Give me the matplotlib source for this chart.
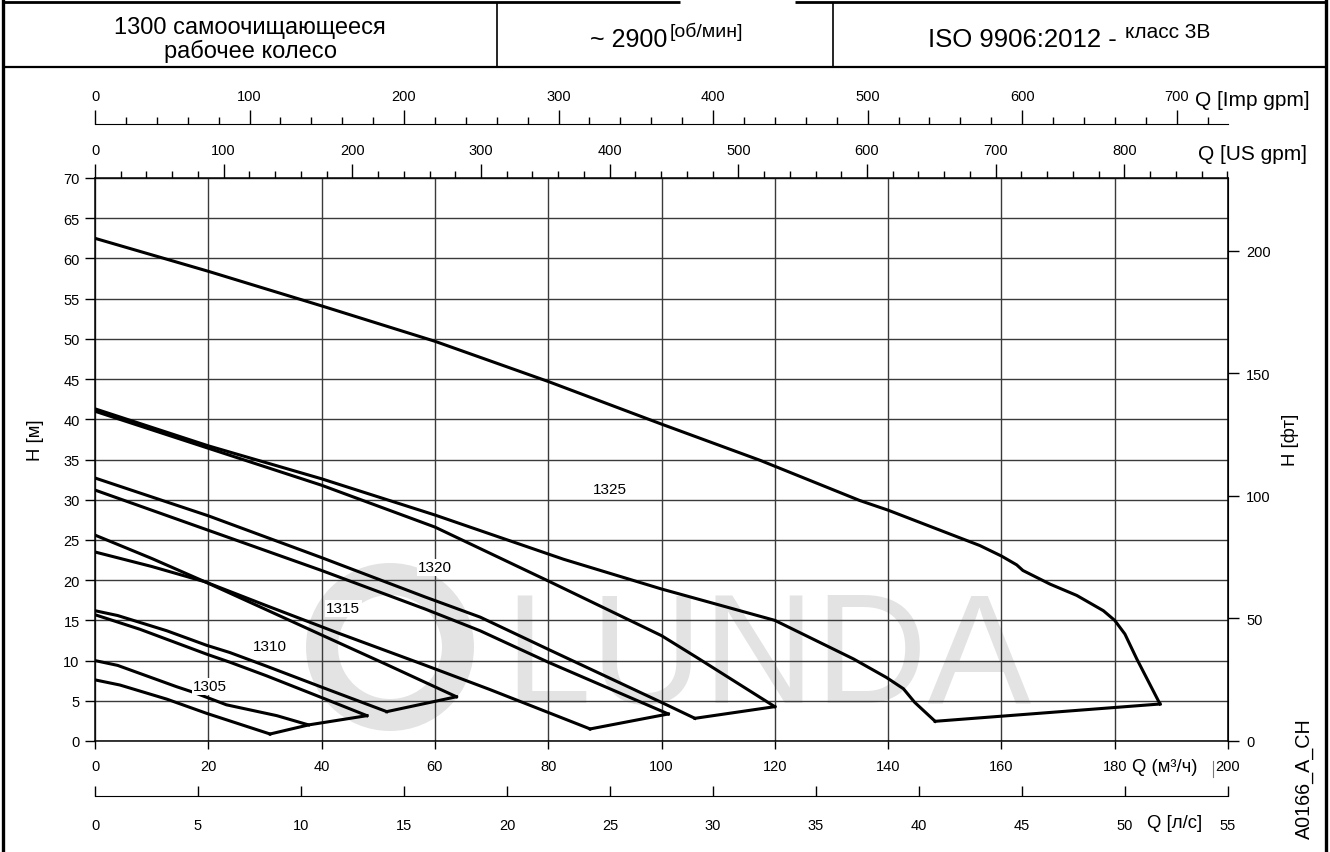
import matplotlib
matplotlib.use("Agg")
import matplotlib.pyplot as plt
from matplotlib.lines import Line2D
from matplotlib.patches import Circle
from matplotlib.ticker import FixedLocator
from matplotlib.transforms import IdentityTransform

plt.rcParams['font.family'] = ['Liberation Sans', 'DejaVu Sans']

W, H = 1330, 853

# curves: Q [m3/h], H [m]
q_a = [0, 20, 40, 60, 80, 100, 117.4, 135, 140, 156.2, 160, 162.7, 163.8, 168.6, 173.3, 178, 180, 181.8, 183.9, 188]
h_a = [62.5, 58.4, 54.1, 49.7, 44.7, 39.4, 34.9, 29.9, 28.7, 24.3, 23.0, 21.9, 21.2, 19.5, 18.1, 16.2, 15.0, 13.3, 10.2, 4.6]

q_b = [0, 20, 40, 60, 82.7, 100, 120, 133.9, 139.7, 142.7, 144.7, 148.3]
h_b = [41.3, 36.7, 32.6, 28.1, 22.6, 18.9, 15.0, 10.2, 7.9, 6.5, 4.8, 2.45]

q_c = [0, 20, 40, 60, 80, 100, 106.2, 120]
h_c = [41.0, 36.4, 31.8, 26.6, 19.9, 13.1, 10.4, 4.27]

q_d = [0, 20, 40, 58.3, 68, 80, 100, 105.9]
h_d = [32.7, 28.0, 22.8, 17.9, 15.4, 11.4, 4.8, 2.82]

q_e = [0, 20, 40, 58.3, 68, 80, 101.2]
h_e = [31.2, 26.2, 21.2, 16.4, 13.7, 9.8, 3.36]

q_f = [0, 10, 19.4, 30, 41.5, 51.5, 63.8]
h_f = [25.6, 22.7, 19.8, 16.4, 12.7, 9.5, 5.5]

q_g = [0, 10, 19.4, 30, 43, 58, 69.7, 87.4]
h_g = [23.5, 21.7, 19.8, 16.9, 13.4, 9.5, 6.4, 1.5]

q_h = [0, 4, 12.7, 19.7, 23.8, 30.3, 40, 51.5]
h_h = [16.2, 15.6, 13.7, 11.9, 11.0, 9.3, 6.7, 3.65]

q_i = [0, 7.9, 19.7, 23.8, 30.3, 40, 48]
h_i = [15.7, 13.9, 10.8, 9.8, 8.1, 5.4, 3.15]

q_j = [0, 4, 14.4, 17.4, 23.2, 32.1, 37.7]
h_j = [10.0, 9.4, 6.75, 6.05, 4.5, 3.15, 2.0]

q_k = [0, 4.4, 12.7, 19.7, 30.9]
h_k = [7.6, 6.96, 5.2, 3.44, 0.87]

# end-of-curve lines
end_q = [[30.9, 37.7, 48], [51.5, 63.8], [87.4, 101.2], [105.9, 120], [148.3, 188]]
end_h = [[0.87, 2.0, 3.15], [3.65, 5.5], [1.5, 3.36], [2.82, 4.27], [2.45, 4.6]]

models = ['1325', '1320', '1315', '1310', '1305']
label_q = [90.9, 60, 43.8, 30.9, 20.3]
label_h = [31.3, 21.6, 16.5, 11.8, 6.8]

imp_ticks = list(range(0, 701, 100))
us_ticks = list(range(0, 801, 100))
ls_ticks = list(range(0, 56, 5))
ft_ticks = [0, 50, 100, 150, 200]

TICK_FS = 10.5


def fx(x):
    return x / W


def fy(y):
    return 1 - y / H


fig = plt.figure(figsize=(W / 100, H / 100), dpi=100)
ax = fig.add_axes([fx(95), fy(742), 1133 / W, 563 / H])
ax.set_xlim(0, 200)
ax.set_ylim(0, 70)
ax.set_xticks(range(0, 201, 20))
ax.set_yticks(range(0, 71, 5))
ax.grid(True, color='#3a3a3a', lw=1.0)
ax.set_axisbelow(True)
for s in ax.spines.values():
    s.set_linewidth(1.1)
ax.tick_params(axis='x', direction='out', length=6, width=1, pad=7, labelsize=TICK_FS)
ax.tick_params(axis='y', direction='out', length=7, width=1, pad=4, labelsize=TICK_FS)

# watermark
ax.add_patch(Circle((390, H - 648), 68, transform=IdentityTransform(), fill=False,
                    ec='#e3e3e3', lw=23, zorder=0.2))
ax.text(504, H - 703, 'LUNDA', transform=IdentityTransform(), fontsize=112,
        color='#e3e3e3', ha='left', va='baseline', zorder=0.2)

for q, h in [(q_a, h_a), (q_b, h_b), (q_c, h_c), (q_d, h_d), (q_e, h_e), (q_f, h_f),
             (q_g, h_g), (q_h, h_h), (q_i, h_i), (q_j, h_j), (q_k, h_k)]:
    ax.plot(q, h, color='black', lw=2.2, zorder=2)
for q, h in zip(end_q, end_h):
    ax.plot(q, h, color='black', lw=2.2, zorder=2)

for name, q, h in zip(models, label_q, label_h):
    ax.text(q, h, name, ha='center', va='center', fontsize=11, zorder=3,
            bbox=dict(fc='white', ec='none', pad=1))

# extra scales
us = ax.secondary_xaxis('top', functions=(lambda x: x * 4.4029, lambda x: x / 4.4029))
us.set_xticks(us_ticks)
us.xaxis.set_minor_locator(FixedLocator(range(0, 881, 20)))
us.tick_params(which='major', length=10, width=1, pad=5, labelsize=TICK_FS)
us.tick_params(which='minor', length=5, width=1)

imp = ax.secondary_xaxis((742 - 125) / 563, functions=(lambda x: x * 3.6661, lambda x: x / 3.6661))
imp.set_xticks(imp_ticks)
imp.xaxis.set_minor_locator(FixedLocator(range(0, 721, 20)))
imp.tick_params(which='major', length=10, width=1, pad=5, labelsize=TICK_FS)
imp.tick_params(which='minor', length=5, width=1)

ls = ax.secondary_xaxis(-(797 - 742) / 563, functions=(lambda x: x * 55 / 200, lambda x: x * 200 / 55))
ls.set_xticks(ls_ticks)
ls.tick_params(direction='in', length=7, width=1, pad=16, labelsize=TICK_FS)

ft = ax.secondary_yaxis('right', functions=(lambda x: x * 3.28084, lambda x: x / 3.28084))
ft.set_yticks(ft_ticks)
ft.tick_params(length=8, width=1, pad=5, labelsize=TICK_FS)

# axis titles
fig.text(fx(1195), fy(101), 'Q [Imp gpm]', ha='left', va='center', fontsize=15)
fig.text(fx(1198), fy(155), 'Q [US gpm]', ha='left', va='center', fontsize=15)
fig.text(fx(1165), fy(768), 'Q (м³/ч)', ha='center', va='center', fontsize=13.3)
fig.text(fx(1175), fy(824), 'Q [л/с]', ha='center', va='center', fontsize=13.3)
fig.text(fx(36), fy(440), 'H [м]', ha='center', va='center', rotation=90, fontsize=13.3)
fig.text(fx(1290), fy(440), 'H [фт]', ha='center', va='center', rotation=90, fontsize=13.3)
fig.text(fx(1304), fy(779), 'A0166_A_CH', ha='center', va='center', rotation=90, fontsize=14.2)
fig.add_artist(Line2D([fx(1213), fx(1213)], [fy(762), fy(778)], color='#777777', lw=0.8,
                      transform=fig.transFigure))

# header
fig.text(fx(250), fy(34), '1300 самоочищающееся', ha='center', va='baseline', fontsize=17)
fig.text(fx(250), fy(58), 'рабочее колесо', ha='center', va='baseline', fontsize=17)
fig.text(fx(667), fy(47), '~ 2900', ha='right', va='baseline', fontsize=18)
fig.text(fx(670), fy(37), '[об/мин]', ha='left', va='baseline', fontsize=14)
fig.text(fx(1117), fy(47), 'ISO 9906:2012 -', ha='right', va='baseline', fontsize=18.5)
fig.text(fx(1125), fy(38), 'класс 3B', ha='left', va='baseline', fontsize=15)


def frame_line(x0, y0, x1, y1, lw):
    fig.add_artist(Line2D([fx(x0), fx(x1)], [fy(y0), fy(y1)], color='black', lw=lw,
                          transform=fig.transFigure, solid_capstyle='butt'))


frame_line(3, 0, 3, H, 2.4)
frame_line(1326, 0, 1326, H, 2.4)
frame_line(3, 3, 680, 3, 2.0)
frame_line(795, 3, 1326, 3, 2.0)
frame_line(3, 68, 1326, 68, 1.6)
frame_line(497, 3, 497, 68, 1.2)
frame_line(833, 3, 833, 68, 1.2)

fig.savefig('out.png', dpi=100)
